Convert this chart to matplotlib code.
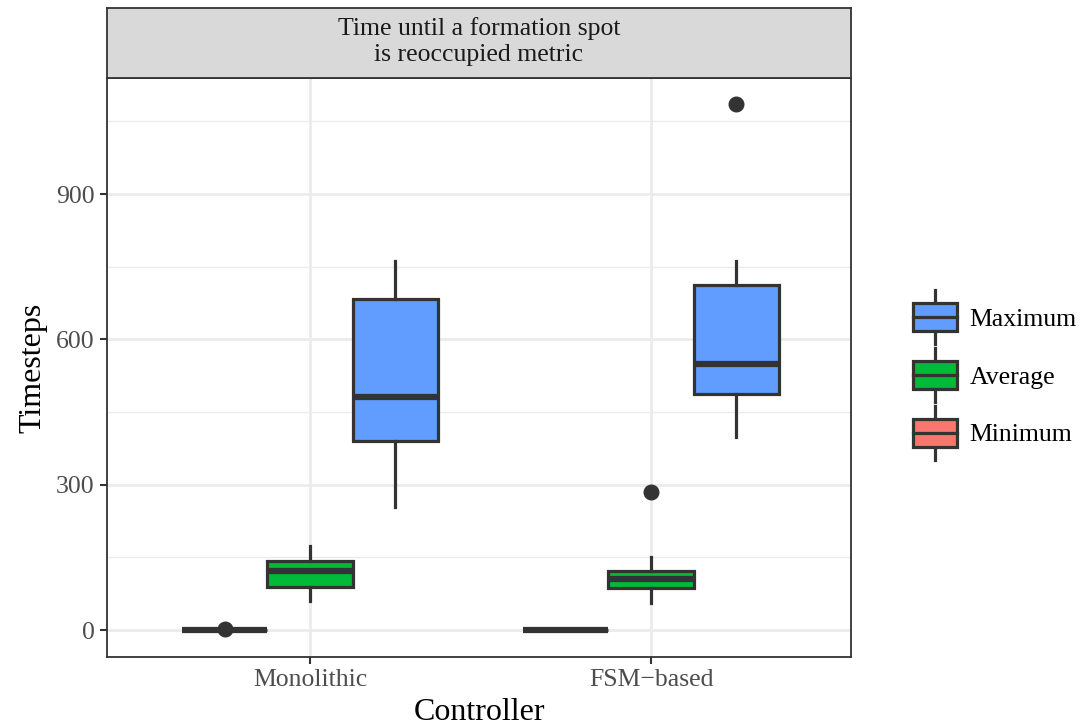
import matplotlib
matplotlib.use('Agg')
import matplotlib.pyplot as plt
from matplotlib.patches import Rectangle, Patch
from matplotlib.lines import Line2D
from matplotlib.legend_handler import HandlerBase

plt.rcParams['font.family'] = ['Liberation Serif', 'DejaVu Serif']

# data
controllers = ['Monolithic', 'FSM\u2212based']
metrics = ['Minimum', 'Average', 'Maximum']
colors = {'Minimum': '#F8766D', 'Average': '#00BA38', 'Maximum': '#619CFF'}

# per controller, per metric: [whislo, q1, med, q3, whishi]
mono_min = [0, 0, 0, 0, 0]
mono_avg = [60, 88, 122, 142, 173]
mono_max = [254, 390, 481, 683, 762]
fsm_min = [0, 0, 0, 0, 0]
fsm_avg = [56, 87, 105, 122, 151]
fsm_max = [398, 487, 549, 712, 762]

mono_fliers = {'Minimum': [2], 'Average': [], 'Maximum': []}
fsm_fliers = {'Minimum': [], 'Average': [285], 'Maximum': [1086]}

box_data = [
    {'Minimum': mono_min, 'Average': mono_avg, 'Maximum': mono_max},
    {'Minimum': fsm_min, 'Average': fsm_avg, 'Maximum': fsm_max},
]
flier_data = [mono_fliers, fsm_fliers]

edge = '#333333'
W, H = 1084, 726
fig = plt.figure(figsize=(W / 100, H / 100), dpi=100)
ax = fig.add_axes([107 / W, (H - 657) / H, (851 - 107) / W, (657 - 78) / H])

offsets = {'Minimum': -0.25, 'Average': 0.0, 'Maximum': 0.25}
for i, ctrl in enumerate(controllers):
    for m in metrics:
        lo, q1, med, q3, hi = box_data[i][m]
        st = [{'whislo': lo, 'q1': q1, 'med': med, 'q3': q3, 'whishi': hi,
               'fliers': flier_data[i][m]}]
        ax.bxp(st, positions=[i + 1 + offsets[m]], widths=0.25,
               patch_artist=True, showcaps=False,
               boxprops=dict(facecolor=colors[m], edgecolor=edge, linewidth=2.3),
               whiskerprops=dict(color=edge, linewidth=2.3),
               medianprops=dict(color=edge, linewidth=4.5, solid_capstyle='butt'),
               flierprops=dict(marker='o', markerfacecolor=edge, markeredgecolor=edge,
                               markersize=10.5),
               manage_ticks=False, zorder=3)

ax.set_xlim(0.405, 2.586)
ax.set_ylim(-55.7, 1139.5)
ax.set_xticks([1, 2])
ax.set_xticklabels(controllers)
ax.set_yticks([0, 300, 600, 900])
ax.set_yticks([150, 450, 750, 1050], minor=True)
ax.grid(True, which='major', color='#EBEBEB', linewidth=2.0, zorder=0)
ax.grid(True, which='minor', axis='y', color='#EBEBEB', linewidth=1.0, zorder=0)
ax.set_axisbelow(True)
ax.tick_params(axis='both', which='major', length=5, width=1.5, color=edge,
               labelsize=18.5, labelcolor='#4D4D4D', pad=4)
ax.tick_params(axis='y', which='minor', length=0)
for s in ax.spines.values():
    s.set_color(edge)
    s.set_linewidth(1.3)
ax.set_xlabel('Controller', fontsize=23, labelpad=5)
ax.set_ylabel('Timesteps', fontsize=23, labelpad=6)

# facet strip
sax = fig.add_axes([107 / W, (H - 78) / H, (851 - 107) / W, (78 - 8) / H])
sax.set_facecolor('#D9D9D9')
sax.set_xticks([])
sax.set_yticks([])
for s in sax.spines.values():
    s.set_color(edge)
    s.set_linewidth(1.3)
sax.text(0.5, 0.52, 'Time until a formation spot\nis reoccupied metric',
         ha='center', va='center', fontsize=18.5, color='#1A1A1A',
         linespacing=1.2, transform=sax.transAxes)


class BoxHandler(HandlerBase):
    def create_artists(self, legend, orig_handle, xdescent, ydescent,
                       width, height, fontsize, trans):
        x0, y0 = -xdescent, -ydescent
        bh = height * 0.92
        by = y0 + (height - bh) / 2
        cx = x0 + width / 2
        wl = Line2D([cx, cx], [y0 - height * 0.38, y0 + height * 1.38],
                    color=edge, linewidth=2.3, transform=trans)
        r = Rectangle((x0, by), width, bh, facecolor=orig_handle.get_facecolor(),
                      edgecolor=edge, linewidth=2.3, transform=trans)
        ml = Line2D([x0, x0 + width], [y0 + height / 2] * 2, color=edge,
                    linewidth=2.3, transform=trans)
        return [wl, r, ml]


handles = [Patch(facecolor=colors[m]) for m in ['Maximum', 'Average', 'Minimum']]
fig.legend(handles, ['Maximum', 'Average', 'Minimum'],
           handler_map={Patch: BoxHandler()},
           loc='center left', bbox_to_anchor=(913 / W, (H - 375) / H),
           frameon=False, fontsize=18.5, handlelength=1.7, handleheight=1.45,
           labelspacing=1.06, handletextpad=0.5, borderpad=0, borderaxespad=0)

fig.savefig('out.png', dpi=100)
